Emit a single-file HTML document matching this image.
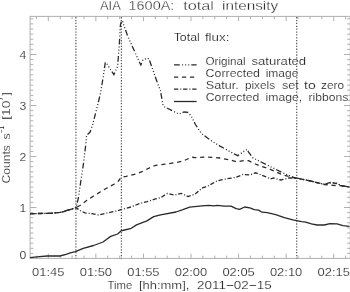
<!DOCTYPE html>
<html><head><meta charset="utf-8"><style>
html,body{margin:0;padding:0;background:#fff;}
body{width:350px;height:292px;overflow:hidden;}
svg{display:block;filter:grayscale(1) blur(0.35px);}
text{font-family:"Liberation Sans",sans-serif;fill:#202020;stroke:#fff;stroke-width:0.18px;}
.ti{stroke-width:0.3px;}
.sp{stroke-width:0;}
</style></head><body>
<svg width="350" height="292" viewBox="0 0 350 292">
<rect width="350" height="292" fill="#fff"/>
<rect x="30.1" y="16.4" width="320.2" height="241.99999999999997" fill="none" stroke="#b0b0b0" stroke-width="1"/>
<path d="M36.41,258.4v-2.8M36.41,16.4v2.8M48.30,258.4v-4.8M48.30,16.4v4.8M60.19,258.4v-2.8M60.19,16.4v2.8M72.08,258.4v-2.8M72.08,16.4v2.8M83.98,258.4v-2.8M83.98,16.4v2.8M95.87,258.4v-4.8M95.87,16.4v4.8M107.76,258.4v-2.8M107.76,16.4v2.8M119.66,258.4v-2.8M119.66,16.4v2.8M131.55,258.4v-2.8M131.55,16.4v2.8M143.44,258.4v-4.8M143.44,16.4v4.8M155.33,258.4v-2.8M155.33,16.4v2.8M167.22,258.4v-2.8M167.22,16.4v2.8M179.12,258.4v-2.8M179.12,16.4v2.8M191.01,258.4v-4.8M191.01,16.4v4.8M202.90,258.4v-2.8M202.90,16.4v2.8M214.80,258.4v-2.8M214.80,16.4v2.8M226.69,258.4v-2.8M226.69,16.4v2.8M238.58,258.4v-4.8M238.58,16.4v4.8M250.47,258.4v-2.8M250.47,16.4v2.8M262.37,258.4v-2.8M262.37,16.4v2.8M274.26,258.4v-2.8M274.26,16.4v2.8M286.15,258.4v-4.8M286.15,16.4v4.8M298.04,258.4v-2.8M298.04,16.4v2.8M309.94,258.4v-2.8M309.94,16.4v2.8M321.83,258.4v-2.8M321.83,16.4v2.8M333.72,258.4v-4.8M333.72,16.4v4.8M345.61,258.4v-2.8M345.61,16.4v2.8M30.1,253.40h3.2M350.3,253.40h-3.2M30.1,248.30h3.2M350.3,248.30h-3.2M30.1,243.20h3.2M350.3,243.20h-3.2M30.1,238.10h3.2M350.3,238.10h-3.2M30.1,233.00h3.2M350.3,233.00h-3.2M30.1,227.90h3.2M350.3,227.90h-3.2M30.1,222.80h3.2M350.3,222.80h-3.2M30.1,217.70h3.2M350.3,217.70h-3.2M30.1,212.60h3.2M350.3,212.60h-3.2M30.1,207.50h6.3M350.3,207.50h-6.3M30.1,202.40h3.2M350.3,202.40h-3.2M30.1,197.30h3.2M350.3,197.30h-3.2M30.1,192.20h3.2M350.3,192.20h-3.2M30.1,187.10h3.2M350.3,187.10h-3.2M30.1,182.00h3.2M350.3,182.00h-3.2M30.1,176.90h3.2M350.3,176.90h-3.2M30.1,171.80h3.2M350.3,171.80h-3.2M30.1,166.70h3.2M350.3,166.70h-3.2M30.1,161.60h3.2M350.3,161.60h-3.2M30.1,156.50h6.3M350.3,156.50h-6.3M30.1,151.40h3.2M350.3,151.40h-3.2M30.1,146.30h3.2M350.3,146.30h-3.2M30.1,141.20h3.2M350.3,141.20h-3.2M30.1,136.10h3.2M350.3,136.10h-3.2M30.1,131.00h3.2M350.3,131.00h-3.2M30.1,125.90h3.2M350.3,125.90h-3.2M30.1,120.80h3.2M350.3,120.80h-3.2M30.1,115.70h3.2M350.3,115.70h-3.2M30.1,110.60h3.2M350.3,110.60h-3.2M30.1,105.50h6.3M350.3,105.50h-6.3M30.1,100.40h3.2M350.3,100.40h-3.2M30.1,95.30h3.2M350.3,95.30h-3.2M30.1,90.20h3.2M350.3,90.20h-3.2M30.1,85.10h3.2M350.3,85.10h-3.2M30.1,80.00h3.2M350.3,80.00h-3.2M30.1,74.90h3.2M350.3,74.90h-3.2M30.1,69.80h3.2M350.3,69.80h-3.2M30.1,64.70h3.2M350.3,64.70h-3.2M30.1,59.60h3.2M350.3,59.60h-3.2M30.1,54.50h6.3M350.3,54.50h-6.3M30.1,49.40h3.2M350.3,49.40h-3.2M30.1,44.30h3.2M350.3,44.30h-3.2M30.1,39.20h3.2M350.3,39.20h-3.2M30.1,34.10h3.2M350.3,34.10h-3.2M30.1,29.00h3.2M350.3,29.00h-3.2M30.1,23.90h3.2M350.3,23.90h-3.2M30.1,18.80h3.2M350.3,18.80h-3.2" stroke="#b0b0b0" stroke-width="1" fill="none"/>
<line x1="75.9" y1="17.08" x2="75.9" y2="258.4" stroke="#555" stroke-width="1.2" stroke-dasharray="1.3 1.565"/>
<line x1="121.4" y1="17.08" x2="121.4" y2="258.4" stroke="#555" stroke-width="1.2" stroke-dasharray="1.3 1.565"/>
<line x1="296.7" y1="17.08" x2="296.7" y2="258.4" stroke="#555" stroke-width="1.2" stroke-dasharray="1.3 1.565"/>
<polyline points="30.0,257.7 36.9,256.9 47.2,256.0 60.0,256.0 66.0,254.3 71.2,252.6 75.5,251.7 83.2,248.3 93.6,245.5 103.0,242.0 106.4,239.5 110.7,236.4 117.6,234.0 121.0,230.9 124.5,230.0 131.3,228.3 136.5,224.9 146.9,220.9 153.7,216.6 160.6,214.9 176.0,212.0 182.9,209.7 189.7,207.2 201.9,205.8 208.7,205.3 213.9,205.8 217.3,205.3 224.2,206.2 231.0,206.2 236.2,208.7 239.6,209.3 244.7,207.0 249.9,207.9 254.3,209.6 258.6,210.1 262.0,212.2 267.2,212.7 275.7,214.7 284.3,217.6 292.9,219.9 301.5,221.6 305.7,222.1 311.4,223.9 317.1,225.0 324.3,225.0 330.0,223.6 337.1,223.9 342.9,225.7 349.5,226.4" fill="none" stroke="#2a2a2a" stroke-width="1.3" stroke-linejoin="round"/>
<polyline points="30.0,213.6 40.0,213.5 50.0,213.3 55.0,212.8 60.0,212.4 63.7,211.7 67.0,210.4 70.0,209.6 73.0,208.7 76.0,207.6 80.0,205.5 86.9,200.3 93.7,196.0 100.6,191.7 107.4,187.8 114.3,184.0 118.5,181.0 121.2,177.2 126.3,176.3 136.6,173.7 141.9,171.7 150.4,167.4 155.6,165.4 165.9,164.0 174.5,162.8 183.0,161.1 191.6,157.2 195.0,157.6 207.3,157.0 219.6,158.0 228.6,159.6 237.1,161.9 244.3,160.4 248.6,160.7 252.9,162.9 258.6,165.4 268.6,168.6 282.9,174.9 295.2,178.0 297.0,178.2 309.0,180.7 325.0,184.6 333.0,185.4 341.0,185.7 349.5,187.0" fill="none" stroke="#2a2a2a" stroke-width="1.3" stroke-dasharray="4.2 3.8"/>
<polyline points="30.0,213.6 40.0,213.5 50.0,213.3 55.0,212.8 60.0,212.4 63.7,211.7 67.0,210.4 70.0,209.6 73.0,208.7 76.0,207.6 80.0,210.5 85.0,212.9 91.9,213.7 98.7,215.1 107.3,212.9 115.9,211.1 121.9,209.4 131.3,206.9 139.9,203.4 146.9,201.7 155.4,198.9 160.6,197.7 167.4,193.4 174.3,195.1 181.2,193.4 188.0,196.5 194.9,194.3 201.9,188.2 208.7,185.6 217.3,180.8 222.4,179.6 229.3,178.4 236.2,177.3 243.0,174.4 249.9,175.0 255.5,172.8 260.0,174.5 266.4,177.0 270.5,179.0 273.6,178.0 280.8,180.0 289.0,178.0 296.2,178.0 297.0,178.2 309.0,180.7 325.0,184.6 331.0,182.7 337.5,183.6 341.0,185.7 349.5,187.0" fill="none" stroke="#2a2a2a" stroke-width="1.3" stroke-dasharray="4.3 2 1 1.8"/>
<polyline points="30.0,213.6 40.0,213.5 50.0,213.3 55.0,212.8 60.0,212.4 63.7,211.7 67.0,210.4 70.0,209.6 73.0,208.7 76.0,207.6 78.3,198.5 79.5,189.8 83.4,164.2 85.6,146.0 86.6,135.5 88.0,134.0 90.0,132.3 92.5,125.0 95.0,115.5 97.8,104.5 100.4,93.6 103.2,77.2 105.3,62.3 107.3,64.4 110.5,69.5 113.9,74.6 117.6,66.4 119.3,45.0 120.4,25.0 121.5,20.6 122.6,21.4 123.9,25.5 124.7,27.7 127.6,35.9 131.8,45.3 135.5,53.5 138.7,60.7 140.8,65.0 143.0,59.8 147.3,58.1 149.0,59.0 152.4,68.4 155.0,76.1 158.3,85.3 160.4,90.4 163.1,105.8 164.5,106.8 172.7,110.9 178.9,114.0 184.0,112.0 188.1,112.4 191.2,116.0 195.3,124.3 201.2,133.3 212.5,141.6 220.0,146.1 227.1,150.0 232.9,153.3 237.9,155.7 242.9,151.9 247.1,149.3 248.6,152.1 252.9,157.9 258.6,160.7 260.3,161.6 267.1,165.0 270.5,166.7 282.9,172.9 295.2,178.0 297.0,178.2 309.0,180.7 325.0,184.5 328.0,183.0 331.0,182.3 337.5,183.3 341.0,185.6 349.5,187.0" fill="none" stroke="#2a2a2a" stroke-width="1.3" stroke-dasharray="5.8 2.3 1 2.1 1 2.1 1 2"/>
<line x1="174" y1="64.9" x2="196.6" y2="64.9" stroke="#2a2a2a" stroke-width="1.3" stroke-dasharray="5.8 2.3 1 2.1 1 2.1 1 2"/>
<line x1="174" y1="77.1" x2="196.6" y2="77.1" stroke="#2a2a2a" stroke-width="1.3" stroke-dasharray="4.2 3.8"/>
<line x1="174" y1="89.2" x2="196.6" y2="89.2" stroke="#2a2a2a" stroke-width="1.3" stroke-dasharray="4.3 2 1 1.8"/>
<line x1="174" y1="101.5" x2="196.6" y2="101.5" stroke="#2a2a2a" stroke-width="1.3"/>
<text class="ti" x="99.9" y="10.3" font-size="12.4" textLength="20.9" lengthAdjust="spacingAndGlyphs">AIA</text><text class="ti" x="128.5" y="10.3" font-size="12.4" textLength="45.9" lengthAdjust="spacingAndGlyphs">1600A:</text><text class="ti" x="183.2" y="10.3" font-size="12.4" textLength="30.8" lengthAdjust="spacingAndGlyphs">total</text><text class="ti" x="222.0" y="10.3" font-size="12.4" textLength="56.2" lengthAdjust="spacingAndGlyphs">intensity</text>
<text x="173.7" y="41.0" font-size="10.9" textLength="26.1" lengthAdjust="spacingAndGlyphs">Total</text><text x="204.9" y="41.0" font-size="10.9" textLength="24.6" lengthAdjust="spacingAndGlyphs">flux:</text>
<text x="205.4" y="64.6" font-size="10.9" textLength="40.3" lengthAdjust="spacingAndGlyphs">Original</text><text x="251.4" y="64.6" font-size="10.9" textLength="54.8" lengthAdjust="spacingAndGlyphs">saturated</text>
<text x="205.6" y="76.9" font-size="10.9" textLength="54.3" lengthAdjust="spacingAndGlyphs">Corrected</text><text x="265.7" y="76.9" font-size="10.9" textLength="32.7" lengthAdjust="spacingAndGlyphs">image</text>
<text x="205.8" y="88.9" font-size="10.9" textLength="32.9" lengthAdjust="spacingAndGlyphs">Satur.</text><text x="244.9" y="88.9" font-size="10.9" textLength="30.2" lengthAdjust="spacingAndGlyphs">pixels</text><text x="281.9" y="88.9" font-size="10.9" textLength="16.8" lengthAdjust="spacingAndGlyphs">set</text><text x="304.0" y="88.9" font-size="10.9" textLength="11.7" lengthAdjust="spacingAndGlyphs">to</text><text x="321.0" y="88.9" font-size="10.9" textLength="23.0" lengthAdjust="spacingAndGlyphs">zero</text>
<text x="205.8" y="101.2" font-size="10.9" textLength="53.6" lengthAdjust="spacingAndGlyphs">Corrected</text><text x="265.6" y="101.2" font-size="10.9" textLength="36.6" lengthAdjust="spacingAndGlyphs">image,</text><text x="308.4" y="101.2" font-size="10.9" textLength="39.9" lengthAdjust="spacingAndGlyphs">ribbons</text>
<text x="32.1" y="275.5" font-size="10.9" textLength="32.4" lengthAdjust="spacingAndGlyphs">01:45</text>
<text x="79.7" y="275.5" font-size="10.9" textLength="32.4" lengthAdjust="spacingAndGlyphs">01:50</text>
<text x="127.2" y="275.5" font-size="10.9" textLength="32.4" lengthAdjust="spacingAndGlyphs">01:55</text>
<text x="174.8" y="275.5" font-size="10.9" textLength="32.4" lengthAdjust="spacingAndGlyphs">02:00</text>
<text x="222.4" y="275.5" font-size="10.9" textLength="32.4" lengthAdjust="spacingAndGlyphs">02:05</text>
<text x="269.9" y="275.5" font-size="10.9" textLength="32.4" lengthAdjust="spacingAndGlyphs">02:10</text>
<text x="317.5" y="275.5" font-size="10.9" textLength="32.4" lengthAdjust="spacingAndGlyphs">02:15</text>
<text x="107.5" y="289.0" font-size="10.9" textLength="24.7" lengthAdjust="spacingAndGlyphs">Time</text><text x="138.9" y="289.0" font-size="10.9" textLength="50.5" lengthAdjust="spacingAndGlyphs">[hh:mm],</text><text x="197.0" y="289.0" font-size="10.9" textLength="74.7" lengthAdjust="spacingAndGlyphs">2011&#8722;02&#8722;15</text>
<text x="19.6" y="258.9" font-size="10.9" textLength="6.8" lengthAdjust="spacingAndGlyphs">0</text>
<text x="19.6" y="212.0" font-size="10.9" textLength="6.8" lengthAdjust="spacingAndGlyphs">1</text>
<text x="19.6" y="161.0" font-size="10.9" textLength="6.8" lengthAdjust="spacingAndGlyphs">2</text>
<text x="19.6" y="110.0" font-size="10.9" textLength="6.8" lengthAdjust="spacingAndGlyphs">3</text>
<text x="19.6" y="59.0" font-size="10.9" textLength="6.8" lengthAdjust="spacingAndGlyphs">4</text>
<text transform="translate(10.0,183.5) rotate(-90)" font-size="11.3" textLength="38.3" lengthAdjust="spacingAndGlyphs">Counts</text>
<text transform="translate(10.0,139.4) rotate(-90)" font-size="11.3" textLength="6.2" lengthAdjust="spacingAndGlyphs">s</text>
<text class="sp" transform="translate(3.8,133.2) rotate(-90)" font-size="7.2" textLength="7.2" lengthAdjust="spacingAndGlyphs">&#8722;1</text>
<text transform="translate(10.0,119.8) rotate(-90)" font-size="11.3" textLength="19.3" lengthAdjust="spacingAndGlyphs">[10</text>
<text class="sp" transform="translate(3.4,100.9) rotate(-90)" font-size="7.2" textLength="4.7" lengthAdjust="spacingAndGlyphs">7</text>
<text transform="translate(10.0,95.6) rotate(-90)" font-size="11.3" textLength="3.0" lengthAdjust="spacingAndGlyphs">]</text>
</svg>
</body></html>
